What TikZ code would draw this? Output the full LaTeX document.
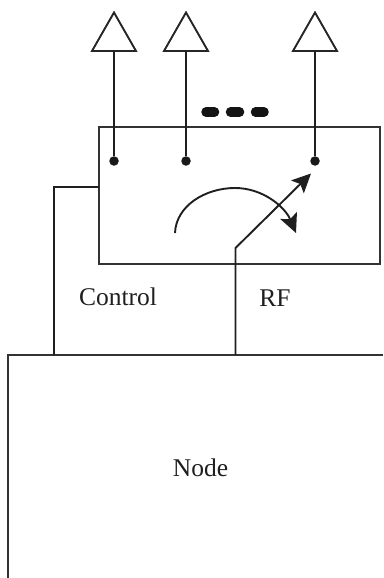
\documentclass[tikz,border=0pt]{standalone}
\usepackage{fontspec}
\setmainfont{Liberation Serif}
\usetikzlibrary{arrows.meta}
\tikzset{
  wire/.style={line width=1.9pt,draw=black!88},
  boxline/.style={line width=1.9pt,draw=black!80,line join=miter},
  ant/.style={line width=1.9pt,draw=black!85,line join=miter},
  contact/.style={circle,fill=black!90,inner sep=0pt,minimum size=9.5pt},
  dashdot/.style={line width=9.5pt,line cap=round,draw=black!92},
  label/.style={anchor=base,font=\fontsize{25.5pt}{30pt}\selectfont,text=black!88,inner sep=0pt},
  tip/.style={-{Stealth[length=19pt,width=18pt,inset=4pt]}}
}
\begin{document}
\begin{tikzpicture}[x=1pt,y=-1pt]
\useasboundingbox (0,0) rectangle (383,578);
% switch box
\node[boxline,draw,rectangle,outer sep=0pt,minimum width=281pt,minimum height=137pt,inner sep=0pt,anchor=north west] (sw) at (99,127) {};
% node box, running off the picture at bottom and right
\coordinate (nbl) at (8,578);
\coordinate (ntl) at (8,355);
\coordinate (ntr) at (383,355);
\draw[boxline] (nbl) -- (ntl) -- (ntr);
% antennas
\foreach \n/\x in {a/114,b/186,c/315} {
  \coordinate (\n top) at (\x,12.5);
  \coordinate (\n base) at (\x,51);
  \draw[ant] (\n top) -- ++(-22,38.5) -- ++(44,0) -- cycle;
  \node[contact] (\n dot) at (\x,161) {};
  \draw[wire] (\n base) -- (\n dot);
}
% dots
\coordinate (d1a) at (206,112); \coordinate (d1b) at (214.5,112);
\coordinate (d2a) at (230.5,112); \coordinate (d2b) at (239.5,112);
\coordinate (d3a) at (255.5,112); \coordinate (d3b) at (264,112);
\draw[dashdot] (d1a) -- (d1b);
\draw[dashdot] (d2a) -- (d2b);
\draw[dashdot] (d3a) -- (d3b);
% control
\coordinate (cs) at (99,187);
\coordinate (ce) at (54,355);
\draw[wire] (cs) -- (54,187) -- (ce);
% RF
\coordinate (rfb) at (235.5,355);
\coordinate (rfk) at (235.5,248);
\coordinate (rft) at (311,173.5);
\draw[wire,tip] (rfb) -- (rfk) -- (rft);
% rotation arc
\coordinate (ars) at (175,233);
\coordinate (art) at (235,188);
\coordinate (are) at (296,233);
\draw[wire,tip] (ars) .. controls (176,206) and (205,188) .. (art) .. controls (263,188) and (285,207) .. (are);
% labels
\node[label] (control) at (118,305) {Control};
\node[label] (rf) at (275,306.5) {RF};
\node[label] (nodelabel) at (200.5,476.5) {Node};
\end{tikzpicture}
\end{document}
